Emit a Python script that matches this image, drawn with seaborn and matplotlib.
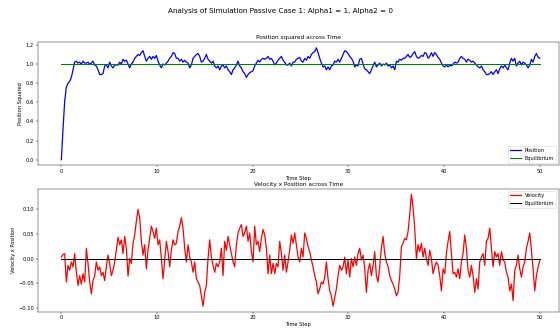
import numpy as np
import matplotlib
matplotlib.use("Agg")
import matplotlib.pyplot as plt
import seaborn as sns

# ---- data ----
position_squared = [
    0.00, 0.32, 0.61, 0.76, 0.80, 0.82, 0.86, 0.94, 1.02, 1.03, 1.01, 1.02, 1.00, 1.03, 1.01, 1.01,
    1.02, 1.00, 1.01, 1.03, 0.99, 0.98, 0.94, 0.89, 0.89, 0.90, 0.98, 0.99, 0.96, 1.02, 0.98, 0.96,
    0.99, 0.99, 0.99, 1.02, 1.00, 1.05, 1.03, 1.04, 1.00, 0.96, 1.00, 1.02, 1.06, 1.08, 1.10, 1.09,
    1.12, 1.14, 1.08, 1.03, 1.06, 1.08, 1.05, 1.08, 1.06, 1.09, 1.03, 0.99, 0.96, 1.00, 0.99, 1.01,
    1.03, 1.06, 1.08, 1.12, 1.11, 1.06, 1.06, 1.03, 1.05, 1.02, 1.04, 1.02, 1.01, 0.96, 0.99, 1.06,
    1.08, 1.10, 1.11, 1.08, 1.02, 1.03, 1.06, 1.10, 1.05, 1.03, 1.01, 1.03, 0.98, 0.96, 0.98, 0.94,
    0.98, 0.99, 0.96, 0.98, 0.94, 0.92, 0.89, 0.94, 0.96, 0.99, 1.03, 0.98, 0.96, 0.92, 0.90, 0.86,
    0.89, 0.91, 0.92, 0.93, 0.98, 1.01, 1.04, 1.02, 1.05, 1.06, 1.05, 1.06, 1.08, 1.05, 1.06, 1.03,
    0.99, 1.01, 1.04, 1.06, 1.08, 1.04, 1.02, 0.99, 0.99, 1.01, 0.98, 1.02, 1.02, 1.05, 1.06, 1.07,
    1.03, 1.02, 1.06, 1.04, 1.08, 1.06, 1.10, 1.12, 1.13, 1.17, 1.12, 1.06, 1.01, 0.97, 0.98, 0.94,
    0.97, 0.94, 0.98, 0.99, 1.03, 1.02, 1.05, 1.02, 1.06, 1.10, 1.14, 1.13, 1.11, 1.08, 1.06, 1.03,
    0.97, 0.99, 0.98, 1.05, 1.06, 1.00, 0.95, 0.94, 0.92, 0.90, 0.94, 0.98, 1.02, 0.97, 0.99, 1.01,
    0.98, 1.00, 0.99, 1.01, 0.98, 0.99, 0.96, 0.98, 0.94, 1.03, 1.02, 1.05, 1.04, 1.06, 1.06, 1.08,
    1.10, 1.07, 1.08, 1.11, 1.13, 1.08, 1.06, 1.07, 1.09, 1.08, 1.12, 1.11, 1.06, 1.08, 1.12, 1.08,
    1.12, 1.10, 1.07, 1.05, 1.01, 0.98, 0.97, 0.99, 0.97, 0.99, 0.98, 1.00, 1.02, 1.01, 1.02, 1.06,
    1.08, 1.06, 1.05, 1.02, 1.05, 1.04, 1.02, 1.03, 1.01, 0.99, 0.97, 0.96, 0.98, 0.94, 0.92, 0.89,
    0.89, 0.90, 0.92, 0.89, 0.92, 0.94, 0.90, 0.95, 0.98, 0.96, 0.99, 0.96, 0.94, 1.01, 1.06, 1.03,
    1.06, 0.98, 1.01, 1.03, 0.99, 1.02, 1.01, 0.99, 0.96, 0.99, 1.05, 1.02, 1.08, 1.11, 1.07, 1.06,
]

velocity_x_position = [
    0.003, 0.008, 0.010, -0.048, -0.014, -0.024, -0.007, -0.017, 0.010, -0.028, -0.055, -0.035,
    -0.052, -0.031, -0.048, 0.020, -0.010, -0.048, -0.072, -0.045, -0.035, -0.007, -0.024, -0.017,
    -0.035, -0.028, -0.045, -0.017, 0.007, -0.010, -0.035, -0.024, -0.007, 0.017, 0.043, 0.028,
    0.038, 0.010, 0.045, 0.021, -0.036, 0.000, -0.010, 0.031, 0.048, 0.076, 0.100, 0.083,
    0.035, 0.007, 0.028, -0.021, 0.017, 0.041, 0.066, 0.055, 0.041, 0.062, 0.028, 0.038,
    0.000, -0.041, -0.003, 0.035, 0.014, -0.017, 0.017, 0.038, 0.028, 0.031, 0.055, 0.066,
    0.083, 0.062, 0.021, -0.007, 0.028, 0.003, -0.007, -0.028, -0.007, -0.041, -0.048, -0.055,
    -0.076, -0.097, -0.069, -0.055, 0.000, 0.038, 0.003, -0.014, -0.028, -0.010, -0.017, -0.007,
    0.021, -0.035, 0.035, 0.017, 0.045, 0.028, 0.010, -0.007, -0.017, 0.028, 0.052, 0.062,
    0.069, 0.045, 0.052, 0.066, 0.035, 0.052, 0.014, -0.007, 0.066, 0.028, 0.035, 0.014,
    0.041, 0.059, 0.048, 0.021, -0.031, 0.007, -0.031, -0.010, -0.031, -0.010, -0.017, 0.035,
    0.010, -0.024, 0.007, -0.028, -0.007, 0.017, 0.048, 0.031, 0.052, 0.028, 0.003, -0.007,
    0.021, 0.003, 0.052, 0.041, 0.024, 0.014, -0.003, -0.017, -0.035, -0.048, -0.072, -0.062,
    -0.048, -0.052, -0.038, -0.007, -0.041, -0.066, -0.076, -0.097, -0.079, -0.062, -0.035, -0.014,
    -0.024, -0.017, 0.003, -0.031, -0.003, -0.038, 0.000, -0.017, 0.003, -0.014, 0.010, 0.021,
    -0.003, 0.007, -0.021, -0.069, -0.024, -0.010, -0.035, -0.014,
    0.014, -0.035, -0.048, -0.017, 0.021, 0.045, 0.010, -0.007, -0.017, -0.035, -0.045, -0.052,
    -0.062, -0.076, -0.069, -0.035, 0.024, 0.031, 0.041, 0.038, 0.055, 0.090, 0.131, 0.104,
    0.062, 0.000, 0.028, 0.014, 0.031, 0.003, 0.021, 0.000, -0.014, 0.017, 0.000, -0.031,
    -0.017, -0.007, -0.014, -0.035, -0.066, -0.021, -0.031, 0.010, 0.035, 0.055, 0.010, -0.031,
    -0.028, -0.038, -0.021, -0.041, -0.007, 0.010, 0.048, 0.021, -0.024, -0.038, -0.014, -0.035,
    -0.069, -0.041, -0.062, -0.007, 0.003, 0.010, -0.014, 0.035, 0.041, 0.062, 0.021, -0.017,
    0.014, 0.003, 0.010, -0.014, 0.014, -0.003, -0.007, -0.028, -0.038, -0.066, -0.052, -0.086,
    -0.024, -0.014, 0.007, -0.021, -0.038, -0.017, -0.007, 0.021, 0.035, 0.052, 0.017, -0.021,
    -0.066, -0.035, -0.017, -0.005,
]

t_start, t_end = 0, 50
time_pos = np.linspace(t_start, t_end, len(position_squared))
time_vel = np.linspace(t_start, t_end, len(velocity_x_position))
equilibrium_position = [1.0, 1.0]
equilibrium_velocity = [0.0, 0.0]
equilibrium_time = [t_start, t_end]

x_ticks = [0, 10, 20, 30, 40, 50]
top_y_ticks = [0.0, 0.2, 0.4, 0.6, 0.8, 1.0, 1.2]
bottom_y_ticks = [-0.10, -0.05, 0.00, 0.05, 0.10]

# ---- figure ----
plt.rcParams["font.family"] = ["DejaVu Sans"]
fig, (ax1, ax2) = plt.subplots(2, 1, figsize=(15, 335 / (560 / 15)), dpi=560 / 15)
fig.subplots_adjust(left=0.067, right=0.998, top=0.874, bottom=0.0696, hspace=0.19)

sns.lineplot(x=time_pos, y=position_squared, ax=ax1, color="blue", label="Position",
             linewidth=2.4, estimator=None, sort=False)
sns.lineplot(x=equilibrium_time, y=equilibrium_position, ax=ax1, color="green",
             label="Equilibrium", linewidth=2.0, estimator=None)
ax1.set_title("Position squared across Time", fontsize=11)
ax1.set_xlabel("Time Step", fontsize=10)
ax1.set_ylabel("Position Squared", fontsize=10)
ax1.set_xticks(x_ticks)
ax1.set_yticks(top_y_ticks)
ax1.legend(loc="lower right", fontsize=10)

sns.lineplot(x=time_vel, y=velocity_x_position, ax=ax2, color="red", label="Velocity",
             linewidth=2.4, estimator=None, sort=False)
sns.lineplot(x=equilibrium_time, y=equilibrium_velocity, ax=ax2, color="black",
             label="Equilibrium", linewidth=2.0, estimator=None)
ax2.set_title("Velocity x Position across Time", fontsize=11)
ax2.set_xlabel("Time Step", fontsize=10)
ax2.set_ylabel("Velocity x Position", fontsize=10)
ax2.set_xticks(x_ticks)
ax2.set_yticks(bottom_y_ticks)
ax2.legend(loc="upper right", fontsize=10)

for ax in (ax1, ax2):
    ax.tick_params(labelsize=10)
    ax.set_xlim(-2.49, 52.0)

fig.suptitle("Analysis of Simulation Passive Case 1: Alpha1 = 1, Alpha2 = 0", fontsize=14, y=0.975)
fig.savefig("out.png", dpi=560 / 15)
